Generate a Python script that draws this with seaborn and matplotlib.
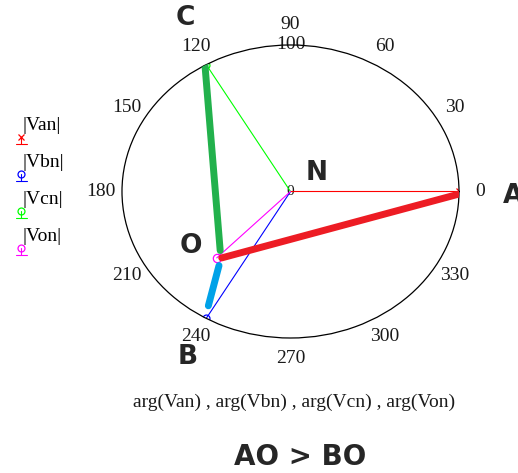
import numpy as np
import pandas as pd
import matplotlib.pyplot as plt
import seaborn as sns
from matplotlib.lines import Line2D

# phasors (magnitude, angle in degrees)
phasor_names = ['Van', 'Vbn', 'Vcn', 'Von']
phasor_mag = [100, 100, 100, 63]
phasor_ang = [0, 240, 120, 226]
phasor_colors = ['#ff0000', '#0000ff', '#00ff00', '#ff00ff']
phasor_markers = ['x', 'o', 'o', 'o']

# hand drawn segments AO, CO, BO (start mag/ang -> end mag/ang)
seg_names = ['AO', 'CO', 'BO']
seg_start_mag = [100, 100, 92]
seg_start_ang = [359, 120.5, 238]
seg_end_mag = [61, 58, 66]
seg_end_ang = [228, 224, 230]
seg_colors = ['#ed1c24', '#22b14c', '#00a2e8']

theta_ticks = list(range(0, 360, 30))
r_ticks = [0, 100]

sns.set_theme(style='white')
serif = ['Liberation Serif', 'DejaVu Serif']
bold = ['DejaVu Sans']

fig = plt.figure(figsize=(5.18, 4.73), dpi=100)
ax = fig.add_axes([0.2355, 0.2854, 0.6506, 0.6195], projection='polar')
ax.set_aspect('auto')

rows = []
for n, m, a in zip(phasor_names, phasor_mag, phasor_ang):
    rows.append({'name': n, 'theta': 0.0, 'r': 0.0})
    rows.append({'name': n, 'theta': np.deg2rad(a), 'r': m})
df = pd.DataFrame(rows)

for n, c, mk in zip(phasor_names, phasor_colors, phasor_markers):
    sns.lineplot(data=df[df['name'] == n], x='theta', y='r', sort=False,
                 estimator=None, color=c, linewidth=0.8, ax=ax, legend=False,
                 marker=mk, markevery=[1], markersize=6 if n == 'Von' else 5,
                 markerfacecolor='none', markeredgecolor=c, markeredgewidth=0.9)

for sm, sa, em, ea, c in zip(seg_start_mag, seg_start_ang, seg_end_mag, seg_end_ang, seg_colors):
    ax.plot(np.deg2rad([sa, ea]), [sm, em], color=c, linewidth=5,
            solid_capstyle='round', zorder=3)

ax.set_ylim(0, 100)
ax.set_yticks([])
ax.grid(False)
ax.set_xticks(np.deg2rad(theta_ticks))
ax.set_xticklabels([str(t) for t in theta_ticks], fontfamily=serif, fontsize=14, color='#1a1a1a')
ax.tick_params(axis='x', pad=2)
ax.spines['polar'].set_color('black')
ax.spines['polar'].set_linewidth(0.9)
ax.set_xlabel('')
ax.set_ylabel('')
for r, a in zip(r_ticks, [90, 90]):
    ax.text(np.deg2rad(a), r, str(r), ha='center', va='center',
            fontfamily=serif, fontsize=14 if r else 11, color='#1a1a1a', zorder=1)

# overlay in pixel coordinates for annotations and legend
ov = fig.add_axes([0, 0, 1, 1], facecolor='none')
ov.set_xlim(0, 518)
ov.set_ylim(473, 0)
ov.axis('off')

legend_y = [125, 162, 199, 236]
for n, c, mk, y in zip(phasor_names, phasor_colors, phasor_markers, legend_y):
    ov.text(22, y, '|' + n + '|', ha='left', va='center', fontfamily=serif, fontsize=14, color='black')
    ov.add_line(Line2D([21, 21], [y + 12, y + 19], color=c, linewidth=0.8))
    ov.add_line(Line2D([16, 27], [y + 19, y + 19], color=c, linewidth=0.8))
    ov.plot([21], [y + 12], marker=mk, markersize=5, markerfacecolor='none',
            markeredgecolor=c, markeredgewidth=0.9, linestyle='none')

for t, x, y in [('C', 185, 18), ('N', 317, 173), ('O', 191, 246), ('B', 188, 357)]:
    ov.text(x, y, t, ha='center', va='center', fontfamily=bold, fontweight='bold', fontsize=19)
ov.text(503, 196, 'A', ha='left', va='center', fontfamily=bold, fontweight='bold', fontsize=19)

ov.text(294, 402, 'arg(Van) , arg(Vbn) , arg(Vcn) , arg(Von)', ha='center', va='center',
        fontfamily=serif, fontsize=14, color='#1a1a1a')
ov.text(300, 457, 'AO > BO', ha='center', va='center', fontfamily=bold, fontweight='bold', fontsize=20)

fig.savefig('out.png', dpi=100)
